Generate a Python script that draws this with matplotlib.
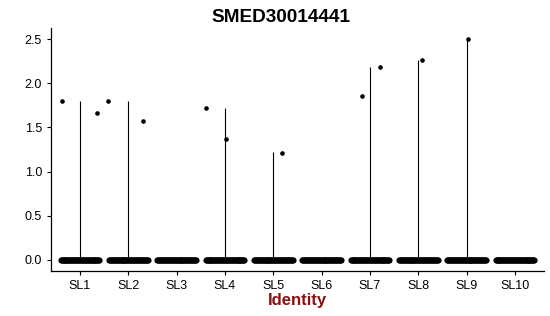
import matplotlib
matplotlib.use("Agg")
import matplotlib.pyplot as plt

plt.rcParams['font.family'] = ['Liberation Sans', 'DejaVu Sans']

# Clusters and per-cluster maximum expression (violin extent)
idents = ['SL1', 'SL2', 'SL3', 'SL4', 'SL5', 'SL6', 'SL7', 'SL8', 'SL9', 'SL10']
violin_max = [1.80, 1.80, 0.0, 1.72, 1.22, 0.0, 2.18, 2.26, 2.50, 0.0]

# non-zero cells: (cluster index, jitter offset, expression)
pos_cells = [
    (0, -0.37, 1.80), (0, 0.35, 1.66),
    (1, -0.41, 1.80), (1, 0.31, 1.57),
    (3, -0.39, 1.72), (3, 0.02, 1.37),
    (4, 0.17, 1.21),
    (6, -0.17, 1.86), (6, 0.21, 2.18),
    (7, 0.08, 2.26),
    (8, 0.02, 2.50),
]
# jitter offsets of the many zero-valued cells in each cluster
zero_offsets = [-0.40, -0.38, -0.36, -0.34, -0.32, -0.30, -0.28, -0.26, -0.24,
                -0.22, -0.20, -0.18, -0.16, -0.14, -0.12, -0.10, -0.08, -0.06,
                -0.04, -0.02, 0.0, 0.02, 0.04, 0.06, 0.08, 0.10, 0.12, 0.14,
                0.16, 0.18, 0.20, 0.22, 0.24, 0.26, 0.28, 0.30, 0.32, 0.34,
                0.36, 0.38, 0.40]

fig = plt.figure(figsize=(5.5, 3.16), dpi=100)
ax = fig.add_axes([0.0927, 0.1424, 0.8963, 0.7686])

xs = list(range(1, len(idents) + 1))
# violins collapse to thin lines
for x, m in zip(xs, violin_max):
    if m > 0:
        ax.plot([x, x], [0, m], color='black', lw=0.8, solid_capstyle='butt')

for x in xs:
    ax.scatter([x + o for o in zero_offsets], [0] * len(zero_offsets),
               s=20, color='black', linewidths=0, zorder=3)
ax.scatter([xs[i] + o for i, o, v in pos_cells], [v for i, o, v in pos_cells],
           s=11, color='black', linewidths=0, zorder=3)

ax.set_xlim(0.4, 10.6)
ax.set_ylim(-0.125, 2.625)
ax.set_xticks(xs)
ax.set_xticklabels(idents)
ax.set_yticks([0, 0.5, 1.0, 1.5, 2.0, 2.5])
ax.set_yticklabels(['0.0', '0.5', '1.0', '1.5', '2.0', '2.5'])
ax.tick_params(axis='both', labelsize=9, length=3, width=0.8, color='black',
               labelcolor='black')
for s in ['top', 'right']:
    ax.spines[s].set_visible(False)
for s in ['left', 'bottom']:
    ax.spines[s].set_linewidth(0.9)

ax.set_xlabel('Identity', fontsize=12, fontweight='bold', color='#8B1010',
              labelpad=1)
fig.text(0.511, 0.945, 'SMED30014441', ha='center', va='center',
         fontsize=13.7, fontweight='bold')

fig.savefig('out.png', dpi=100)
